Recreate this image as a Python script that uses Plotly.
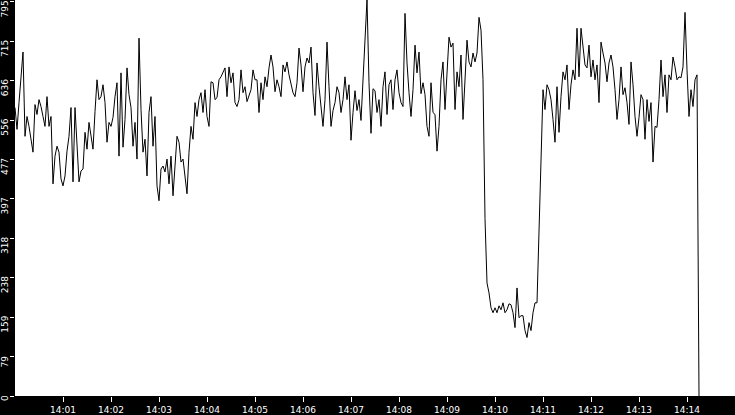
import pandas as pd
import plotly.graph_objects as go

# one sample every 2.5 s starting at 14:00:00
start = '2024-01-01 14:00:00'
step = '2500ms'

load = [
    582, 538, 592, 644, 694, 524, 564, 544, 514, 492, 588, 568, 598, 584, 564, 544, 604, 544, 564, 428,
    484, 504, 492, 438, 424, 444, 494, 524, 582, 432, 582, 504, 432, 454, 458, 532, 498, 552, 528, 498,
    574, 638, 598, 604, 628, 592, 512, 552, 544, 562, 604, 632, 484, 652, 502, 558, 662, 608, 582, 504,
    552,
    478, 722, 578, 492, 518, 444, 572, 604, 504, 564, 424, 394, 458, 464, 452, 478, 428, 484, 404, 464,
    524, 512, 472, 478, 442, 408, 492, 544, 518, 592, 564, 598, 612, 572, 618, 564, 544, 634, 632, 598,
    602, 638, 644, 652, 662, 604, 664, 632, 652, 592, 584, 598, 658, 612, 624, 594, 604, 618, 658, 638,
    638, 572, 632, 598, 644, 624, 662, 688, 664, 614, 638, 624, 604, 668, 654, 674, 648, 632, 612, 604,
    632, 702, 668, 614, 664, 682, 672, 704, 612, 566, 672, 624, 576, 544, 598, 714, 624, 544, 576, 592,
    624, 612, 572, 598, 644, 598, 628, 516, 572, 616, 576, 598, 556, 632, 716, 800, 632, 530, 620, 616,
    572, 598, 544, 624, 654, 568, 628, 638, 578, 638, 658, 612, 592, 584, 772, 672, 612, 564, 618, 708,
    652, 694, 610, 632, 608, 544, 524, 632, 572, 568, 494, 544, 638, 674, 578, 664, 724, 704, 712, 578,
    654, 624, 688, 558, 644, 718, 674, 664, 692, 674, 692, 764, 738, 638,
    358, 228, 208, 178, 168, 178, 168, 182, 174, 188, 168, 174, 186, 184, 168, 138, 218, 158, 162, 162,
    132, 118, 148, 132, 168, 188, 188, 338, 518, 618, 578, 628, 618, 598, 558,
    512, 624, 532, 604, 654, 638, 668, 578, 628, 658, 638, 742, 644, 742, 698, 668, 662, 708, 644, 678,
    638, 668, 592, 714, 692, 672, 634, 672, 688, 664, 618, 558, 598, 664, 608, 622, 592, 548, 674, 628,
    564, 524, 562, 608, 598, 518, 598, 554, 592, 472, 544, 542, 598, 678, 604, 648, 572, 648, 638, 684,
    664, 638, 644, 642, 664, 774, 658, 564, 618, 584, 638, 648, 0,
]

y_tickvals = [0, 79.5, 159, 238.5, 318, 397.5, 477, 556.5, 636, 715.5, 795]
y_ticktext = ['0', '79', '159', '238', '318', '397', '477', '556', '636', '715', '795']

x_ticktext = ['14:01', '14:02', '14:03', '14:04', '14:05', '14:06', '14:07',
              '14:08', '14:09', '14:10', '14:11', '14:12', '14:13', '14:14']

times = pd.date_range(start, periods=len(load), freq=step)
day = start.split(' ')[0]
x_tickvals = [f'{day} {t}:00' for t in x_ticktext]

font = dict(family='DejaVu Sans', size=9, color='white')

fig = go.Figure(go.Scatter(x=times, y=load, mode='lines',
                           line=dict(color='black', width=1), hoverinfo='skip'))

fig.update_layout(
    width=735, height=415,
    margin=dict(l=15, r=0, t=0, b=16, pad=0),
    paper_bgcolor='black', plot_bgcolor='white',
    showlegend=False,
)
fig.update_xaxes(range=[f'{day} 14:00:00', f'{day} 14:15:00'],
                 tickvals=x_tickvals, ticktext=x_ticktext,
                 ticks='outside', ticklen=5, tickwidth=1, tickcolor='white',
                 tickfont=font, showgrid=False, zeroline=False, showline=False)
fig.update_yaxes(range=[0, 799], tickvals=y_tickvals, showticklabels=False,
                 ticks='outside', ticklen=4, tickwidth=1, tickcolor='white',
                 showgrid=False, zeroline=False, showline=False)

# rotated y labels sit below their tick, like the original
for v, t in zip(y_tickvals, y_ticktext):
    fig.add_annotation(x=0, xref='paper', y=v, yref='y', text=t, textangle=-90,
                       xanchor='right', yanchor='top', xshift=-4, yshift=2,
                       showarrow=False, font=font, borderpad=0)

fig.write_html('out.html', config={'displayModeBar': False},
               post_script="document.body.style.margin='0';document.body.style.overflow='hidden';")
